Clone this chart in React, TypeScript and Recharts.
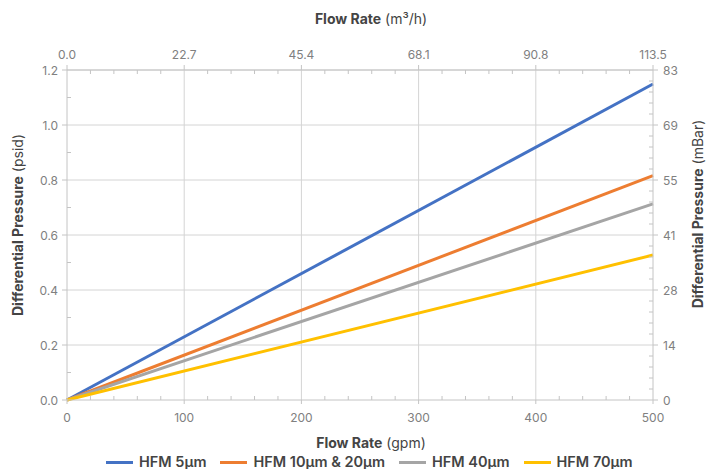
import React from 'react';
import { LineChart, Line, XAxis, YAxis, CartesianGrid } from 'recharts';

const flowGpm = [0, 500];
const hfm5 = [0, 1.149];
const hfm10_20 = [0, 0.816];
const hfm40 = [0, 0.713];
const hfm70 = [0, 0.527];

const seriesNames = ['HFM 5µm', 'HFM 10µm & 20µm', 'HFM 40µm', 'HFM 70µm'];
const seriesKeys = ['hfm5', 'hfm10_20', 'hfm40', 'hfm70'];
const seriesColors = ['#4472C4', '#ED7D31', '#A5A5A5', '#FFC000'];

const gpmTicks = [0, 100, 200, 300, 400, 500];
const gpmLabels = ['0', '100', '200', '300', '400', '500'];
const m3hLabels = ['0.0', '22.7', '45.4', '68.1', '90.8', '113.5'];
const psiTicks = [0, 0.2, 0.4, 0.6, 0.8, 1.0, 1.2];
const psiLabels = ['0.0', '0.2', '0.4', '0.6', '0.8', '1.0', '1.2'];
const mbarLabels = ['0', '14', '28', '41', '55', '69', '83'];
const xAllTicks = [0, 20, 40, 60, 80, 100, 120, 140, 160, 180, 200, 220, 240, 260, 280, 300, 320, 340, 360, 380, 400, 420, 440, 460, 480, 500];
const leftAllTicks = [0, 0.1, 0.2, 0.3, 0.4, 0.5, 0.6, 0.7, 0.8, 0.9, 1.0, 1.1, 1.2];
const rightAllTicks = [0, 0.04, 0.08, 0.12, 0.16, 0.2, 0.24, 0.28, 0.32, 0.36, 0.4, 0.44, 0.48, 0.52, 0.56, 0.6, 0.64, 0.68, 0.72, 0.76, 0.8, 0.84, 0.88, 0.92, 0.96, 1.0, 1.04, 1.08, 1.12, 1.16, 1.2];

const data = flowGpm.map((g, i) => ({
  gpm: g,
  hfm5: hfm5[i],
  hfm10_20: hfm10_20[i],
  hfm40: hfm40[i],
  hfm70: hfm70[i],
}));

const FONT = 'Inter, "Noto Sans", sans-serif';
const TICK_FILL = '#808080';
const AX = '#c4c4c4';

const W = 706;
const H = 469;
const LEFT = 67;
const RIGHT = 53;
const TOP = 70;
const BOTTOM = 69;
const PB = H - BOTTOM; // plot bottom y
const PR = W - RIGHT; // plot right x

const majorIndex = (v: number, majors: number[]) => majors.findIndex((m) => Math.abs(m - v) < 1e-6);

const Title = ({ x, y, bold, rest, rotate }: { x: number; y: number; bold: string; rest: string; rotate?: number }) => (
  <text
    x={x}
    y={y}
    textAnchor="middle"
    dominantBaseline="central"
    fontFamily={FONT}
    fontSize={14}
    fill="#444"
    transform={rotate ? `rotate(${rotate} ${x} ${y})` : undefined}
  >
    <tspan fontWeight={700}>{bold}</tspan>
    <tspan fontWeight={400}>{rest}</tspan>
  </text>
);

const BottomTick = (p: any) => {
  const c = p.payload.coordinate;
  const i = majorIndex(p.payload.value, gpmTicks);
  if (i < 0) return <line x1={c} x2={c} y1={PB} y2={PB - 4} stroke={AX} />;
  return (
    <g>
      <line x1={c} x2={c} y1={PB} y2={PB + 4} stroke={AX} />
      <text x={c} y={PB + 17} textAnchor="middle" dominantBaseline="central" fontFamily={FONT} fontSize={12} fill={TICK_FILL}>
        {gpmLabels[i]}
      </text>
    </g>
  );
};

const TopTick = (p: any) => {
  const c = p.payload.coordinate;
  const i = majorIndex(p.payload.value, gpmTicks);
  if (i < 0) return <line x1={c} x2={c} y1={TOP} y2={TOP + 4} stroke={AX} />;
  return (
    <g>
      <line x1={c} x2={c} y1={TOP} y2={TOP - 5} stroke={AX} />
      <text x={c} y={TOP - 16} textAnchor="middle" dominantBaseline="central" fontFamily={FONT} fontSize={12} fill={TICK_FILL}>
        {m3hLabels[i]}
      </text>
    </g>
  );
};

const LeftTick = (p: any) => {
  const c = p.payload.coordinate;
  const i = majorIndex(p.payload.value, psiTicks);
  if (i < 0) return <line x1={LEFT} x2={LEFT + 4} y1={c} y2={c} stroke={AX} />;
  return (
    <g>
      <line x1={LEFT} x2={LEFT - 5} y1={c} y2={c} stroke={AX} />
      <text x={LEFT - 9} y={c} textAnchor="end" dominantBaseline="central" fontFamily={FONT} fontSize={12} fill={TICK_FILL}>
        {psiLabels[i]}
      </text>
    </g>
  );
};

const RightTick = (p: any) => {
  const c = p.payload.coordinate;
  const i = majorIndex(p.payload.value, psiTicks);
  if (i < 0) return <line x1={PR} x2={PR - 4} y1={c} y2={c} stroke={AX} />;
  return (
    <g>
      <line x1={PR} x2={PR + 5} y1={c} y2={c} stroke={AX} />
      <text x={PR + 10} y={c} textAnchor="start" dominantBaseline="central" fontFamily={FONT} fontSize={12} fill={TICK_FILL}>
        {mbarLabels[i]}
      </text>
    </g>
  );
};

export default function App() {
  const cx = 371;
  return (
    <div style={{ position: 'absolute', left: 0, top: 0, width: W, height: H, background: '#fff' }}>
      <LineChart width={W} height={H} data={data} margin={{ top: 0, right: 0, bottom: 0, left: 0 }}>
        <CartesianGrid
          xAxisId="b"
          yAxisId="l"
          stroke="#d4d4d4"
          strokeWidth={1}
          verticalValues={[100, 200, 300, 400]}
          horizontalValues={[0.2, 0.4, 0.6, 0.8, 1.0, 1.2]}
        />
        <XAxis
          xAxisId="b"
          dataKey="gpm"
          type="number"
          domain={[0, 500]}
          ticks={xAllTicks}
          interval={0}
          orientation="bottom"
          height={BOTTOM}
          stroke={AX}
          tickLine={false}
          tick={BottomTick}
          label={{ content: () => <Title x={cx} y={442} bold="Flow Rate" rest=" (gpm)" /> }}
        />
        <XAxis
          xAxisId="t"
          dataKey="gpm"
          type="number"
          domain={[0, 500]}
          ticks={xAllTicks}
          interval={0}
          orientation="top"
          height={TOP}
          stroke={AX}
          tickLine={false}
          tick={TopTick}
          label={{ content: () => <Title x={cx} y={18} bold="Flow Rate" rest=" (m³/h)" /> }}
        />
        <YAxis
          yAxisId="l"
          dataKey="hfm5"
          type="number"
          domain={[0, 1.2]}
          ticks={leftAllTicks}
          interval={0}
          orientation="left"
          width={LEFT}
          stroke={AX}
          tickLine={false}
          tick={LeftTick}
          label={{ content: () => <Title x={17} y={225} bold="Differential Pressure" rest=" (psid)" rotate={-90} /> }}
        />
        <YAxis
          yAxisId="r"
          dataKey="hfm5"
          type="number"
          domain={[0, 1.2]}
          ticks={rightAllTicks}
          interval={0}
          orientation="right"
          width={RIGHT}
          stroke={AX}
          tickLine={false}
          tick={RightTick}
          label={{ content: () => <Title x={697} y={214} bold="Differential Pressure" rest=" (mBar)" rotate={-90} /> }}
        />
        {seriesKeys.map((k, i) => (
          <Line
            key={k}
            xAxisId="b"
            yAxisId="l"
            type="linear"
            dataKey={k}
            name={seriesNames[i]}
            stroke={seriesColors[i]}
            strokeWidth={3}
            dot={false}
            activeDot={false}
            isAnimationActive={false}
          />
        ))}
      </LineChart>
      <div
        style={{
          position: 'absolute',
          left: 106,
          top: 452,
          display: 'flex',
          alignItems: 'center',
          fontFamily: FONT,
          fontSize: 14.5,
          fontWeight: 600,
          color: '#444',
          whiteSpace: 'nowrap',
          lineHeight: '20px',
        }}
      >
        {seriesNames.map((n, i) => (
          <div key={n} style={{ display: 'flex', alignItems: 'center', marginRight: 14 }}>
            <span style={{ display: 'inline-block', width: 27, height: 3, background: seriesColors[i], marginRight: 6 }} />
            <span>{n}</span>
          </div>
        ))}
      </div>
    </div>
  );
}
